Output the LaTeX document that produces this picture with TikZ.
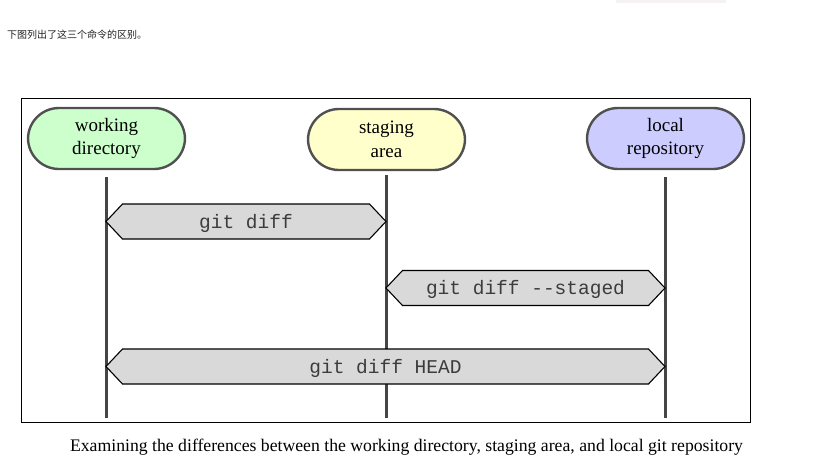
\documentclass[tikz,border=0pt]{standalone}
\usepackage{fontspec}
\usetikzlibrary{calc}
\setmainfont{Liberation Serif}
\setmonofont{Liberation Mono}
\newfontfamily\cjk{Noto Sans CJK SC}
\definecolor{wdfill}{HTML}{CCFFCC}
\definecolor{safill}{HTML}{FFFFCC}
\definecolor{lrfill}{HTML}{CCCCFF}
\definecolor{pillborder}{HTML}{505050}
\definecolor{vline}{HTML}{454545}
\definecolor{cmdfill}{HTML}{D9D9D9}
\definecolor{cmdtext}{HTML}{3C3C3C}
\definecolor{bodytext}{HTML}{222222}
\definecolor{topbar}{HTML}{F6F2F4}
\tikzset{
  pill/.style={draw=pillborder, line width=2.4pt, rounded corners=31pt,
    minimum width=157pt, minimum height=61pt, align=center,
    font=\fontsize{19}{23.5}\selectfont, inner sep=0pt},
  lifeline/.style={draw=vline, line width=3pt},
  cmdshape/.style={draw=black, line width=1.1pt, fill=cmdfill, line join=miter},
  cmdlabel/.style={font=\ttfamily\fontsize{19.5}{22}\selectfont, text=cmdtext, inner sep=0pt},
}
\newcommand{\cmdarrow}[2]{%
  \draw[cmdshape] (#1) -- ($(#1)+(16.5,-17.5)$) -- ($(#2)+(-16.5,-17.5)$) -- (#2) -- ($(#2)+(-16.5,17.5)$) -- ($(#1)+(16.5,17.5)$) -- cycle;}
\begin{document}
\begin{tikzpicture}[x=1pt,y=-1pt]
\useasboundingbox (0,0) rectangle (815,464);
\fill[white] (0,0) rectangle (815,464);
\fill[topbar] (616,0) rectangle (726,2.5);
\node[anchor=base west, inner sep=0pt, text=bodytext, font=\cjk\fontsize{10}{12}\selectfont] (intro) at (7,38) {下图列出了这三个命令的区别。};
\draw[black, line width=0.9pt] (21,98.5) rectangle (750,422.5);
% lifelines
\coordinate (wdtop) at (106,177);
\coordinate (wdbot) at (106,418);
\coordinate (satop) at (386,175);
\coordinate (sabot) at (386,418);
\coordinate (lrtop) at (665,177);
\coordinate (lrbot) at (665,418);
\draw[lifeline] (wdtop) -- (wdbot);
\draw[lifeline] (satop) -- (sabot);
\draw[lifeline] (lrtop) -- (lrbot);
% pills
\node[pill, fill=wdfill] (wd) at (106.5,138.5) {working\\directory};
\node[pill, fill=safill] (sa) at (386.5,139.5) {staging\\area};
\node[pill, fill=lrfill] (lr) at (665.5,138.5) {local\\repository};
% commands
\coordinate (a1l) at (106,221.5);
\coordinate (a1r) at (386,221.5);
\coordinate (a2l) at (386,288);
\coordinate (a2r) at (665,288);
\coordinate (a3l) at (106,366.5);
\coordinate (a3r) at (665,366.5);
\cmdarrow{a1l}{a1r}
\cmdarrow{a2l}{a2r}
\cmdarrow{a3l}{a3r}
\node[cmdlabel] (c1) at ($(a1l)!0.5!(a1r)+(0,1.5)$) {git diff};
\node[cmdlabel] (c2) at ($(a2l)!0.5!(a2r)+(0,1.5)$) {git diff -{}-staged};
\node[cmdlabel] (c3) at ($(a3l)!0.5!(a3r)+(0,1.5)$) {git diff HEAD};
% caption
\node[anchor=base, inner sep=0pt, font=\fontsize{17.7}{20}\selectfont, text=black] (cap) at (406.5,451.5) {Examining the differences between the working directory, staging area, and local git repository};
\end{tikzpicture}
\end{document}
